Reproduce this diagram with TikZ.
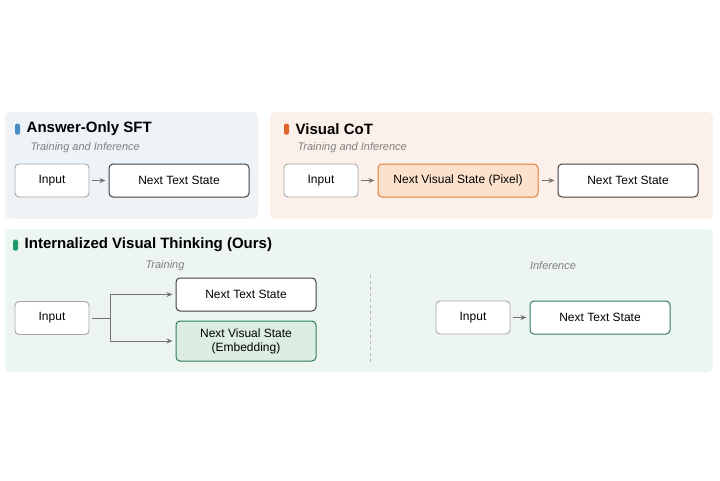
\documentclass[tikz,border=0pt]{standalone}
\usepackage{fontspec}
\setmainfont{Liberation Sans}
\usetikzlibrary{positioning,arrows.meta}
\definecolor{blueBg}{HTML}{EEF3F8}
\definecolor{orangeBg}{HTML}{FCF1EA}
\definecolor{greenBg}{HTML}{EDF5F1}
\definecolor{blueMk}{HTML}{4A8CC8}
\definecolor{orangeMk}{HTML}{E0652A}
\definecolor{greenMk}{HTML}{1E9A6A}
\definecolor{orangeFill}{HTML}{FCE2CC}
\definecolor{orangeLine}{HTML}{E07B39}
\definecolor{greenFill}{HTML}{DCEEE4}
\definecolor{greenLine}{HTML}{2E7D5B}
\tikzset{
  panel/.style={rounded corners=5pt, draw=none},
  marker/.style={rounded corners=1.5pt, minimum width=5pt, minimum height=11pt, inner sep=0pt},
  ptitle/.style={anchor=west, font=\bfseries\fontsize{15}{17}\selectfont},
  psub/.style={font=\itshape\fontsize{11}{13}\selectfont, text=gray},
  inbox/.style={draw=gray!70, fill=white, rounded corners=4pt, line width=0.9pt, minimum width=74pt, minimum height=33pt, font=\fontsize{12}{14}\selectfont},
  statebox/.style={draw=black!75, fill=white, rounded corners=4pt, line width=1pt, minimum width=140pt, minimum height=33pt, font=\fontsize{12}{14}\selectfont, align=center},
  arr/.style={-{Stealth[length=6pt,width=5pt]}, gray!90!black, line width=1pt, shorten <=3pt, shorten >=3pt}
}
\begin{document}
\begin{tikzpicture}[x=1pt,y=-1pt]
\useasboundingbox (0,0) rectangle (720,480);
% panels
\fill[panel, blueBg] (5,112) rectangle (258,219);
\fill[panel, orangeBg] (270,112) rectangle (713,219);
\fill[panel, greenBg] (5,229) rectangle (713,372);
% titles
\node[marker, fill=blueMk] (mk1) at (17.5,129) {};
\node[ptitle, right=3pt of mk1] (t1) {Answer-Only SFT};
\node[psub, anchor=west] (s1) at (27,148) {Training and Inference};
\node[marker, fill=orangeMk] (mk2) at (286.5,129) {};
\node[ptitle, right=3pt of mk2] (t2) {Visual CoT};
\node[psub, anchor=west] (s2) at (294,148) {Training and Inference};
\node[marker, fill=greenMk] (mk3) at (15.5,245) {};
\node[ptitle, right=3pt of mk3] (t3) {Internalized Visual Thinking (Ours)};
\node[psub] (s3) at (165,266) {Training};
\node[psub] (s4) at (553,266) {Inference};
% answer-only
\node[inbox] (in1) at (52,180.5) {Input};
\node[statebox] (nt1) at (179,180.5) {Next Text State};
\draw[arr] (in1) -- (nt1);
% visual cot
\node[inbox] (in2) at (321,180.5) {Input};
\node[statebox, minimum width=160pt, fill=orangeFill, draw=orangeLine] (nv2) at (458,180.5) {Next Visual State (Pixel)};
\node[statebox] (nt2) at (628,180.5) {Next Text State};
\draw[arr] (in2) -- (nv2);
\draw[arr] (nv2) -- (nt2);
% ours: training
\node[inbox] (in3) at (52,318) {Input};
\node[statebox] (nt3) at (246,294.5) {Next Text State};
\node[statebox, minimum height=40pt, fill=greenFill, draw=greenLine] (nv3) at (246,341) {Next Visual State\\(Embedding)};
\coordinate (split) at (110,318);
\draw[gray!90!black, line width=1pt, shorten <=3pt] (in3) -- (split);
\draw[arr, shorten <=0pt] (split) |- (nt3);
\draw[arr, shorten <=0pt] (split) |- (nv3);
% separator
\draw[gray!60, dashed, line width=0.7pt] (370,275) -- (370,365);
% ours: inference
\node[inbox] (in4) at (473,317.5) {Input};
\node[statebox, draw=greenLine] (nt4) at (600,317.5) {Next Text State};
\draw[arr] (in4) -- (nt4);
\end{tikzpicture}
\end{document}
